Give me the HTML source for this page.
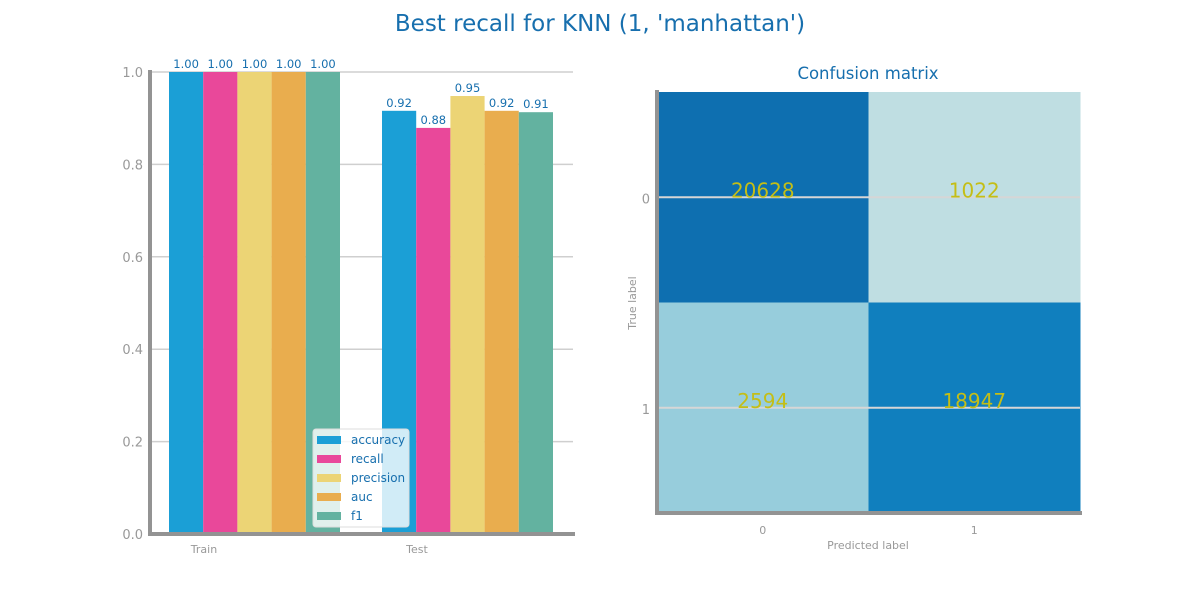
<!DOCTYPE html>
<html><head><meta charset="utf-8"><style>
body{margin:0;background:#fff;}
svg{display:block;font-family:"DejaVu Sans","Liberation Sans",sans-serif;}
</style></head><body>
<svg id="c" width="1200" height="600" viewBox="0 0 1200 600">
<text x="600" y="31" text-anchor="middle" font-size="23" fill="#176fae">Best recall for KNN (1, 'manhattan')</text>
<g id="bars"></g>
<g id="cm"></g>
</svg>
<script>
const groups=["Train","Test"];
const metrics=["accuracy","recall","precision","auc","f1"];
const colors=["#1b9fd6","#e9489a","#ecd475","#e9ad4e","#63b2a0"];
const trainVals=[1.0,1.0,1.0,1.0,1.0];
const testVals=[0.916,0.879,0.948,0.916,0.913];
const yTicks=[0.0,0.2,0.4,0.6,0.8,1.0];
const cmLabels=[0,1];
const cmVals=[[20628,1022],[2594,18947]];
const cmColors=[["#0e6fb0","#bfdee2"],["#97cddc","#107fbe"]];
const NS="http://www.w3.org/2000/svg";
function mk(p,t,a,txt){const e=document.createElementNS(NS,t);for(const k in a)e.setAttribute(k,a[k]);if(txt!==undefined)e.textContent=txt;p.appendChild(e);return e;}
const B=document.getElementById('bars');
const x0=150,x1=573,yb=534,yt=72;
const ys=v=>yb-v*(yb-yt);
yTicks.forEach(t=>{
 const g=mk(B,'line',{x1:x0,x2:x1,y1:ys(t),y2:ys(t),stroke:'#cfcfcf','stroke-width':1.5});
 
 
 const l=mk(B,'text',{x:143,y:ys(t)+5,'text-anchor':'end','font-size':13,fill:'#999'},t.toFixed(1));
 
 
});
const centers=[204,417],bw=34.2;
[trainVals,testVals].forEach((vals,gi)=>{
 vals.forEach((v,i)=>{
  const x=centers[gi]-35+i*bw;
  const r=mk(B,'rect',{x:x,y:ys(v),width:bw,height:yb-ys(v),fill:colors[i]});
  
  
  const t=mk(B,'text',{x:x+bw/2,y:ys(v)-4,'text-anchor':'middle','font-size':11.5,fill:'#176fae'},v.toFixed(2));
  
  
 });
 const tl=mk(B,'text',{x:centers[gi],y:553,'text-anchor':'middle','font-size':11,fill:'#999'},groups[gi]);
 
 
});
mk(B,'line',{x1:x0,x2:x0,y1:70,y2:536,stroke:'#939393','stroke-width':4});
mk(B,'line',{x1:148,x2:575,y1:yb,y2:yb,stroke:'#939393','stroke-width':4});
const lg=mk(B,'g',{});


mk(lg,'rect',{x:313,y:429,width:96,height:98,rx:3,fill:'rgba(255,255,255,0.8)',stroke:'#ddd'});
metrics.forEach((m,i)=>{
 const y=440+i*19;
 mk(lg,'rect',{x:317,y:y-4,width:24,height:8,fill:colors[i]});
 const t=mk(lg,'text',{x:351,y:y+4,'font-size':12,fill:'#176fae'},m);
 
 
});
const C=document.getElementById('cm');
const cx=657,cy=92,cw=211.5,ch=210.5;
mk(C,'text',{x:868,y:79,'text-anchor':'middle','font-size':16.5,fill:'#176fae'},'Confusion matrix');
cmVals.forEach((row,r)=>row.forEach((v,c)=>{
 const e=mk(C,'rect',{x:cx+c*cw,y:cy+r*ch,width:cw+0.5,height:ch+0.5,fill:cmColors[r][c]});
 
 
}));
cmLabels.forEach((l,i)=>{
 mk(C,'line',{x1:cx,x2:cx+2*cw,y1:cy+(i+0.5)*ch,y2:cy+(i+0.5)*ch,stroke:'#d6d6d6','stroke-width':2});
 const a=mk(C,'text',{x:650,y:cy+(i+0.5)*ch+6,'text-anchor':'end','font-size':13,fill:'#999'},l);
 
 
 const b=mk(C,'text',{x:cx+(i+0.5)*cw,y:534,'text-anchor':'middle','font-size':11,fill:'#999'},l);
 
 
});
cmVals.forEach((row,r)=>row.forEach((v,c)=>{
 const t=mk(C,'text',{x:cx+(c+0.5)*cw,y:cy+(r+0.5)*ch,'text-anchor':'middle','font-size':20,fill:'#c4be16'},v);
 
 
}));
mk(C,'line',{x1:cx,x2:cx,y1:90,y2:515,stroke:'#939393','stroke-width':4});
mk(C,'line',{x1:655,x2:1082,y1:513,y2:513,stroke:'#939393','stroke-width':4});
const xl=mk(C,'text',{x:868,y:549,'text-anchor':'middle','font-size':11,fill:'#999'},'Predicted label');


const yl=mk(C,'text',{x:636,y:303,'text-anchor':'middle','font-size':11,fill:'#999',transform:'rotate(-90 636 303)'},'True label');


</script>
</body></html>
